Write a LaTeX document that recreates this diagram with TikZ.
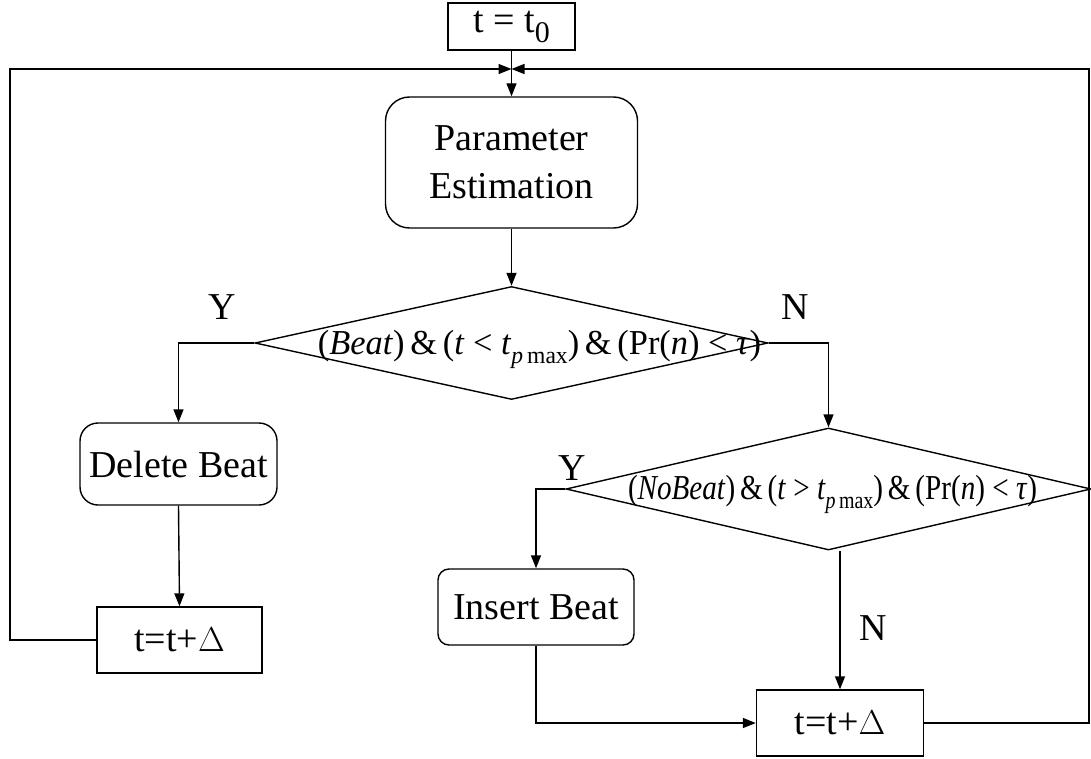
\documentclass[tikz,border=0pt]{standalone}
\usepackage{fontspec}
\usepackage{graphicx}
\setmainfont{Liberation Serif}
\usetikzlibrary{shapes.geometric,arrows.meta}

\newcommand{\pmaxsub}{\raisebox{-4.5pt}{\fontsize{12}{12}\selectfont\textit{p}\,max}}

\begin{document}
\begin{tikzpicture}[x=0.5pt, y=-0.5pt, line width=0.7pt,
    every node/.style={font=\fontsize{19}{24}\selectfont},
    box/.style={draw, rectangle, inner sep=0pt},
    rbox/.style={draw, rectangle, rounded corners=#1, inner sep=0pt, align=center},
    decision/.style={draw, diamond, inner sep=0pt},
    cond/.style={font=\fontsize{17.5}{20}\selectfont, inner sep=0pt, anchor=base},
    arr/.style={-{Triangle[length=6.5pt, width=5pt]}}]
  \useasboundingbox (0,0) rectangle (1091,759);

  % blocks
  \node[box, minimum width=63.5pt, minimum height=23.5pt] (start) at (511.5,26.5)
    {t = t\raisebox{-5pt}{\fontsize{15}{15}\selectfont 0}};
  \node[rbox=12pt, minimum width=126pt, minimum height=65.5pt] (param) at (511.5,162.5)
    {Parameter\\Estimation};
  \node[decision, minimum width=256.5pt, minimum height=56.5pt] (d1) at (511.5,343) {};
  \node[decision, minimum width=262.5pt, minimum height=61pt] (d2) at (828.5,489) {};
  \node[rbox=9pt, minimum width=98.5pt, minimum height=41pt] (del) at (178.5,464) {Delete Beat};
  \node[rbox=5.5pt, minimum width=98pt, minimum height=38pt] (ins) at (536,607) {Insert Beat};
  \node[box, minimum width=82.5pt, minimum height=33pt] (upd1) at (179.5,640) {t=t+$\Delta$};
  \node[box, minimum width=83.5pt, minimum height=33pt] (upd2) at (840,723) {t=t+$\Delta$};

  % conditions
  \node[cond] (c1) at (539.5,354) {\resizebox{221.5pt}{\height}{(\textit{Beat})\,\&\,(\textit{t} < \textit{t}\pmaxsub)\,\&\,(Pr(\textit{n}) < \textit{τ})}};
  \node[cond] (c2) at (832.5,499) {\resizebox{204.5pt}{\height}{(\textit{NoBeat})\,\&\,(\textit{t} > \textit{t}\pmaxsub)\,\&\,(Pr(\textit{n}) < \textit{τ})}};

  % branch labels
  \node (y1) at (222,307) {Y};
  \node (n1) at (795,307) {N};
  \node (y2) at (572,468) {Y};
  \node (n2) at (873,628) {N};

  % loop back
  \coordinate (join) at (511.5,69);
  \coordinate (lft) at (10,69);
  \coordinate (rgt) at (1089,69);

  % connectors
  \draw[arr] (start.south) -- (param.north);
  \draw[arr] (param.south) -- (d1.north);
  \draw[arr] (d1.west) -| (del.north);
  \draw[arr] (d1.east) -| (d2.north);
  \draw[arr] (del.south) -- (upd1.north);
  \draw[arr] (d2.west) -| (ins.north);
  \draw[arr] (upd2.north |- d2.south) -- (upd2.north);
  \draw[arr] (ins.south) |- (upd2.west);
  \draw[arr] (upd1.west) -| (lft) -- (join);
  \draw[arr] (upd2.east) -| (rgt) -- (join);
\end{tikzpicture}
\end{document}
